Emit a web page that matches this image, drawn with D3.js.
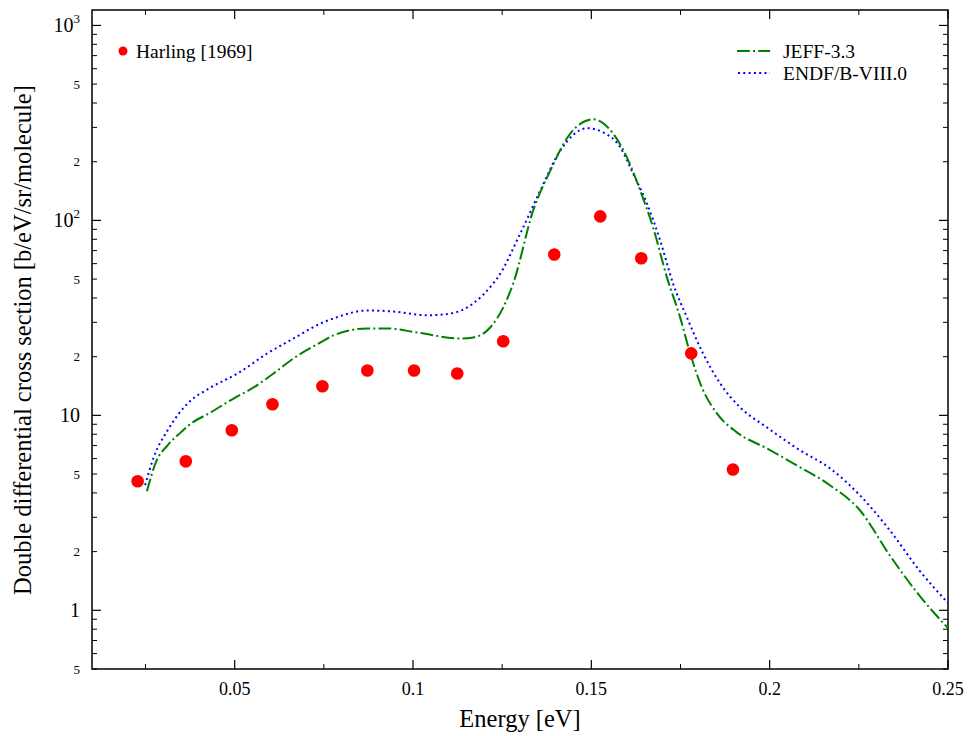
<!DOCTYPE html>
<html><head><meta charset="utf-8">
<script src="https://cdn.jsdelivr.net/npm/d3@7/dist/d3.min.js"></script>
<style>body{margin:0;background:#fff}svg{display:block}text{font-family:"Liberation Serif","Times New Roman",serif;fill:#000}</style>
</head><body><svg id="c" width="970" height="736"></svg>
<script>
// Harling [1969] measurements
const harlingE = [0.0228,0.0363,0.0492,0.0606,0.0746,0.0872,0.1003,0.1124,0.1253,0.1396,0.1525,0.1640,0.1780,0.1897];
const harlingV = [4.59,5.81,8.38,11.4,14.1,17.0,17.0,16.4,24.0,66.9,104.9,63.9,20.8,5.28];
// JEFF-3.3
const jeffE = [0.0254,0.0279,0.0312,0.0349,0.0371,0.0433,0.0497,0.0553,0.0609,0.0665,0.0741,0.0777,0.0872,0.0928,0.1012,0.1133,0.1169,0.1217,0.1253,0.1281,0.1337,0.1385,0.1441,0.1505,0.1561,0.1600,0.1637,0.1673,0.1712,0.1749,0.1777,0.1810,0.1852,0.1908,0.1992,0.2076,0.2169,0.2253,0.2337,0.2420,0.2500];
const jeffV = [4.08,5.74,7.02,8.18,8.89,10.36,12.2,13.9,16.4,19.6,23.7,25.7,27.9,27.9,26.6,24.8,25.1,28.3,35.8,47.5,112.5,180,279,330,279,210,142.5,92.1,51.0,31.8,20.8,13.9,10.24,8.18,6.77,5.54,4.38,3.26,1.91,1.19,0.81];
// ENDF/B-VIII.0
const endfE = [0.0249,0.0273,0.0312,0.0368,0.0433,0.0508,0.0592,0.0665,0.0741,0.0777,0.0872,0.0945,0.1040,0.1105,0.1169,0.1225,0.1236,0.1301,0.1357,0.1413,0.1488,0.1533,0.1581,0.1617,0.1656,0.1693,0.1729,0.1768,0.1813,0.1861,0.1917,0.1992,0.2085,0.2169,0.2253,0.2337,0.2420,0.2500];
const endfV = [4.38,6.09,8.38,11.5,13.9,16.4,20.8,24.8,29.6,31.4,34.5,34.1,32.6,33.3,37.5,47.5,50.4,85.8,142.5,228,297,283,237,174,122,78.9,47.5,31.8,20.8,14.6,11.0,8.68,6.62,5.35,3.89,2.57,1.60,1.09];
const xTicks = [0.05,0.1,0.15,0.2,0.25];
const xTickLabels = ["0.05","0.1","0.15","0.2","0.25"];
const xMinor = [0.025,0.075,0.125,0.175,0.225];
const yMajor = [1,10,100,1000];
const yMajorLabels = [["1",""],["10",""],["10","2"],["10","3"]];

const svg = d3.select("#c");
const L=92,R=948,T=10,B=669;
const x = d3.scaleLinear().domain([0.01,0.25]).range([L,R]);
const y = d3.scaleLog().domain([0.5,1200]).range([B,T]);

svg.append("defs").append("clipPath").attr("id","clp").append("rect")
  .attr("x",L).attr("y",T).attr("width",R-L).attr("height",B-T);

const yMinor=[];
[0.1,1,10,100,1000].forEach(d=>{for(let k=2;k<=9;k++){const v=k*d; if(v>=0.5&&v<=1200) yMinor.push(v);}});

const g = svg.append("g");
xTicks.forEach(v=>{
  g.append("line").attr("x1",x(v)).attr("x2",x(v)).attr("y1",B).attr("y2",B-9).attr("stroke","#000").attr("stroke-width",1.2);
  g.append("line").attr("x1",x(v)).attr("x2",x(v)).attr("y1",T).attr("y2",T+9).attr("stroke","#000").attr("stroke-width",1.2);
});
xMinor.forEach(v=>{
  g.append("line").attr("x1",x(v)).attr("x2",x(v)).attr("y1",B).attr("y2",B-5).attr("stroke","#000").attr("stroke-width",1);
  g.append("line").attr("x1",x(v)).attr("x2",x(v)).attr("y1",T).attr("y2",T+5).attr("stroke","#000").attr("stroke-width",1);
});
xTicks.forEach((v,i)=>{
  g.append("text").attr("x",x(v)).attr("y",695).attr("text-anchor","middle").attr("font-size",18).text(xTickLabels[i]);
});
yMajor.forEach((v,i)=>{
  g.append("line").attr("x1",L).attr("x2",L+9).attr("y1",y(v)).attr("y2",y(v)).attr("stroke","#000").attr("stroke-width",1.2);
  g.append("line").attr("x1",R).attr("x2",R-9).attr("y1",y(v)).attr("y2",y(v)).attr("stroke","#000").attr("stroke-width",1.2);
  const t=g.append("text").attr("x",80).attr("y",y(v)+7).attr("text-anchor","end").attr("font-size",20);
  t.append("tspan").text(yMajorLabels[i][0]);
  if(yMajorLabels[i][1]) t.append("tspan").attr("dy",-9).attr("font-size",13).text(yMajorLabels[i][1]);
});
yMinor.forEach(v=>{
  g.append("line").attr("x1",L).attr("x2",L+5).attr("y1",y(v)).attr("y2",y(v)).attr("stroke","#000").attr("stroke-width",1);
  g.append("line").attr("x1",R).attr("x2",R-5).attr("y1",y(v)).attr("y2",y(v)).attr("stroke","#000").attr("stroke-width",1);
  const m = Math.round(v/Math.pow(10,Math.floor(Math.log10(v)+1e-9)));
  if(m===2||m===5){
    g.append("text").attr("x",80).attr("y",y(v)+4.5).attr("text-anchor","end").attr("font-size",13).text(String(m));
  }
});
svg.append("rect").attr("x",L).attr("y",T).attr("width",R-L).attr("height",B-T).attr("fill","none").attr("stroke","#000").attr("stroke-width",1.5);

const line = d3.line().x(d=>x(d[0])).y(d=>y(d[1])).curve(d3.curveMonotoneX);
const pg = svg.append("g").attr("clip-path","url(#clp)");
pg.append("path").datum(endfE.map((e,i)=>[e,endfV[i]])).attr("d",line)
  .attr("fill","none").attr("stroke","#0000ff").attr("stroke-width",2).attr("stroke-dasharray","2,3.3");
pg.append("path").datum(jeffE.map((e,i)=>[e,jeffV[i]])).attr("d",line)
  .attr("fill","none").attr("stroke","#008000").attr("stroke-width",2).attr("stroke-dasharray","12.8,3.2,2,3.2");
pg.selectAll("circle.h").data(harlingE.map((e,i)=>[e,harlingV[i]])).enter().append("circle")
  .attr("cx",d=>x(d[0])).attr("cy",d=>y(d[1])).attr("r",6.3).attr("fill","#ff0000");

svg.append("circle").attr("cx",123).attr("cy",51).attr("r",4.5).attr("fill","#ff0000");
svg.append("text").attr("x",136).attr("y",58).attr("font-size",19.5).text("Harling [1969]");
svg.append("line").attr("x1",737).attr("x2",770).attr("y1",51).attr("y2",51).attr("stroke","#008000").attr("stroke-width",2).attr("stroke-dasharray","12.8,3.2,2,3.2");
svg.append("text").attr("x",783).attr("y",58).attr("font-size",19.5).text("JEFF-3.3");
svg.append("line").attr("x1",738).attr("x2",770).attr("y1",73).attr("y2",73).attr("stroke","#0000ff").attr("stroke-width",2).attr("stroke-dasharray","2,3.3");
svg.append("text").attr("x",783).attr("y",80).attr("font-size",19.5).text("ENDF/B-VIII.0");

svg.append("text").attr("x",520).attr("y",727).attr("text-anchor","middle").attr("font-size",24.5).text("Energy [eV]");
svg.append("text").attr("transform","translate(31,340) rotate(-90)").attr("text-anchor","middle").attr("font-size",24.5).text("Double differential cross section [b/eV/sr/molecule]");
</script></body></html>
